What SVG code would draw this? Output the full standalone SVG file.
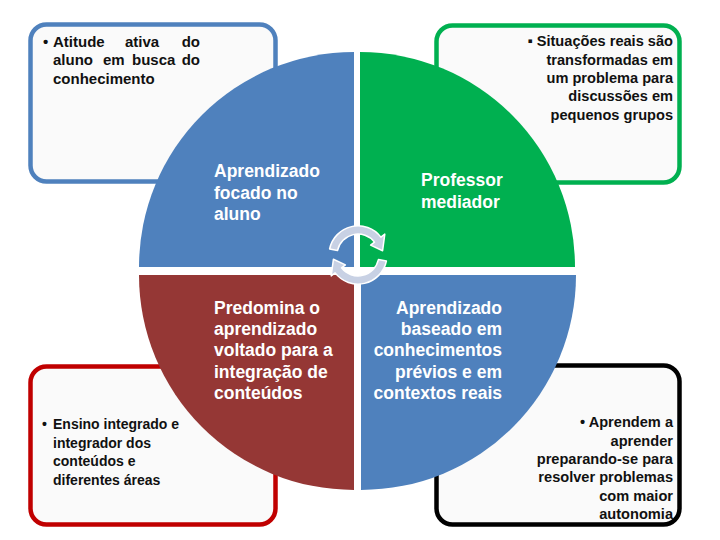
<svg xmlns="http://www.w3.org/2000/svg" width="720" height="540" viewBox="0 0 720 540">
<style>
.box{fill:#FAFAFA;stroke-width:4.5}
.bt{font-family:"Liberation Sans",Arial,sans-serif;font-weight:bold;font-size:14px;fill:#111}
.bt2{font-size:14.6px}
.bt3{font-size:15px}
.qt{font-family:"Liberation Sans",Arial,sans-serif;font-weight:bold;font-size:17.5px;fill:#FFFFFF}
.end{text-anchor:end}
.arr{fill:#C8D1E4;stroke:#FFFFFF;stroke-width:1.5;stroke-linejoin:round}
</style>
<rect width="720" height="540" fill="#FFFFFF"/>
<g id="box-tl">
<rect class="box" x="30.5" y="24.5" width="245" height="157" rx="16" stroke="#4F81BD"/>
<text class="bt bt3" x="43" y="46.5">•</text>
<text class="bt bt3" y="46.5"><tspan x="53">Atitude</tspan><tspan x="125">ativa</tspan><tspan x="200" text-anchor="end">do</tspan></text>
<text class="bt bt3" y="65"><tspan x="53">aluno</tspan><tspan x="103">em</tspan><tspan x="132">busca</tspan><tspan x="200" text-anchor="end">do</tspan></text>
<text class="bt bt3" x="53" y="83.5">conhecimento</text>
</g>
<g id="box-tr">
<rect class="box" x="436.5" y="25.5" width="243" height="157" rx="16" stroke="#00B050"/>
<text class="bt bt2 end" x="673" y="46">▪ Situações reais são</text>
<text class="bt bt2 end" x="673" y="64.5">transformadas em</text>
<text class="bt bt2 end" x="673" y="83">um problema para</text>
<text class="bt bt2 end" x="673" y="101">discussões em</text>
<text class="bt bt2 end" x="673" y="119.5">pequenos grupos</text>
</g>
<g id="box-bl">
<rect class="box" x="30.5" y="366.5" width="245" height="158" rx="16" stroke="#C00000"/>
<text class="bt" x="42" y="429">•</text>
<text class="bt" x="53" y="429">Ensino integrado e</text>
<text class="bt" x="53" y="447.5">integrador dos</text>
<text class="bt" x="53" y="466">conteúdos e</text>
<text class="bt" x="53" y="484.5">diferentes áreas</text>
</g>
<g id="box-br">
<rect class="box" x="436.5" y="365.5" width="243" height="159" rx="16" stroke="#000000"/>
<text class="bt bt2 end" x="673" y="427">• Aprendem a</text>
<text class="bt bt2 end" x="673" y="445.5">aprender</text>
<text class="bt bt2 end" x="673" y="464">preparando-se para</text>
<text class="bt bt2 end" x="673" y="482">resolver problemas</text>
<text class="bt bt2 end" x="673" y="500.5">com maior</text>
<text class="bt bt2 end" x="673" y="519">autonomia</text>
</g>
<g id="quadrant-tl">
<path d="M354,267 L139,267 A215,215 0 0 1 354,52 Z" fill="#4F81BD"/>
<text class="qt" x="214" y="177">Aprendizado</text>
<text class="qt" x="214" y="198.5">focado no</text>
<text class="qt" x="214" y="220">aluno</text>
</g>
<g id="quadrant-tr">
<path d="M360,267 L360,52 A215,215 0 0 1 575,267 Z" fill="#00B050"/>
<text class="qt" x="421" y="186">Professor</text>
<text class="qt" x="421" y="207.5">mediador</text>
</g>
<g id="quadrant-bl">
<path d="M354,275 L354,490 A215,215 0 0 1 139,275 Z" fill="#953735"/>
<text class="qt" x="214" y="313.5">Predomina o</text>
<text class="qt" x="214" y="335">aprendizado</text>
<text class="qt" x="214" y="356">voltado para a</text>
<text class="qt" x="214" y="377.5">integração de</text>
<text class="qt" x="214" y="399">conteúdos</text>
</g>
<g id="quadrant-br">
<path d="M361,275 L576,275 A215,215 0 0 1 361,490 Z" fill="#4F81BD"/>
<text class="qt end" x="502" y="313.5">Aprendizado</text>
<text class="qt end" x="502" y="335">baseado em</text>
<text class="qt end" x="502" y="356">conhecimentos</text>
<text class="qt end" x="502" y="377.5">prévios e em</text>
<text class="qt end" x="502" y="399">contextos reais</text>
</g>
<g id="connectors">
<path class="arr" d="M329.6,249.0 A29,29 0 0 1 380.9,237.1 L384.8,234.1 L382.6,250.7 L370.6,245.1 L374.5,242.1 A21,21 0 0 0 337.5,250.6 Z"/>
<path class="arr" d="M386.4,261.0 A29,29 0 0 1 335.1,272.9 L331.2,275.9 L333.4,259.3 L345.4,264.9 L341.5,267.9 A21,21 0 0 0 378.5,259.4 Z"/>
</g>
</svg>
